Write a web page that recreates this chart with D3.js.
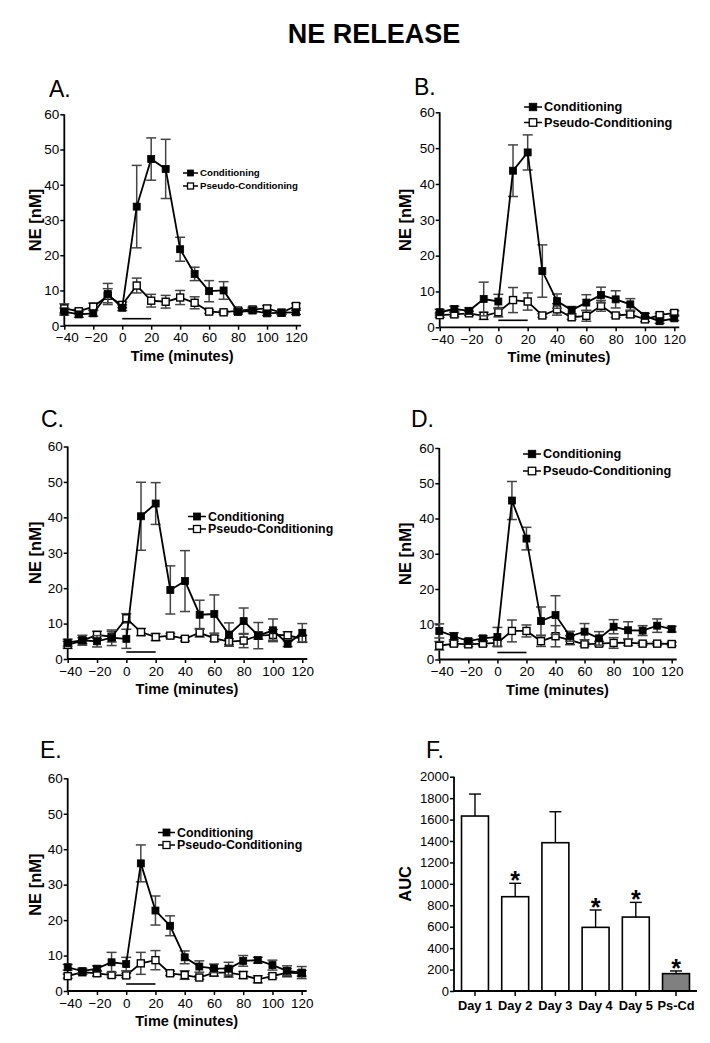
<!DOCTYPE html>
<html>
<head>
<meta charset="utf-8">
<script src="https://cdn.jsdelivr.net/npm/d3@7"></script>
<style>
    body { margin: 0; background: #fff; }
    svg { display: block; font-family: "Liberation Sans", Arial, sans-serif; }
</style>
</head>
<body>
<svg id="chart" width="710" height="1043"></svg>
<script>
// sample times (minutes) and ticks
const timePoints = [-40, -30, -20, -10, 0, 10, 20, 30, 40, 50, 60, 70, 80, 90, 100, 110, 120];
const timeTicks = [-40, -20, 0, 20, 40, 60, 80, 100, 120];
const neTicks = [0, 10, 20, 30, 40, 50, 60];
const stimulus = [0, 20];

// panel A (day 1)
const condA = [4.0, 3.2, 3.5, 9.0, 5.1, 33.8, 47.3, 44.5, 21.7, 14.7, 9.8, 10.0, 3.9, 4.3, 3.5, 3.7, 3.8];
const condAErr = [1.0, 0.8, 0.8, 3.0, 0.8, 11.7, 6.0, 8.4, 3.4, 1.9, 3.0, 2.5, 0.6, 0.6, 0.6, 0.5, 0.6];
const pseudoA = [4.9, 4.1, 5.4, 8.5, 5.9, 11.4, 7.1, 6.8, 8.0, 6.5, 4.0, 3.8, 4.3, 4.6, 4.9, 3.7, 5.6];
const pseudoAErr = [1.3, 0.6, 1.0, 2.0, 0.8, 2.1, 1.8, 1.8, 2.0, 1.7, 0.5, 0.5, 0.6, 0.6, 0.8, 0.5, 0.7];

// panel B
const condB = [4.2, 5.1, 4.6, 7.9, 7.2, 43.7, 48.8, 15.7, 7.3, 4.8, 6.9, 9.0, 7.8, 6.4, 3.2, 1.7, 2.5];
const condBErr = [0.8, 0.8, 0.8, 4.7, 2.0, 7.2, 4.9, 7.3, 2.0, 1.0, 2.2, 2.2, 2.4, 1.6, 0.7, 0.6, 0.6];
const pseudoB = [3.4, 3.6, 3.9, 3.2, 4.2, 7.6, 7.2, 3.3, 5.0, 2.8, 3.2, 6.0, 3.3, 3.6, 2.2, 3.4, 4.0];
const pseudoBErr = [0.6, 0.6, 0.6, 1.0, 1.3, 3.5, 2.4, 0.5, 1.6, 0.6, 1.5, 1.5, 0.5, 0.8, 0.6, 0.5, 0.6];

// panel C
const condC = [4.6, 5.3, 5.0, 6.0, 5.7, 40.3, 43.9, 19.5, 22.0, 12.5, 12.7, 6.9, 10.7, 6.6, 8.1, 4.3, 7.4];
const condCErr = [1.0, 1.4, 1.6, 2.2, 2.7, 9.6, 5.9, 6.8, 8.6, 4.1, 5.4, 3.3, 3.7, 3.7, 3.2, 0.8, 2.6];
const pseudoC = [4.0, 5.2, 6.8, 6.3, 11.5, 7.6, 6.2, 6.6, 5.7, 7.4, 5.8, 4.9, 5.2, 6.6, 6.8, 6.7, 5.7];
const pseudoCErr = [1.0, 0.8, 1.0, 1.5, 1.3, 1.0, 1.0, 0.6, 0.6, 1.2, 0.8, 0.8, 2.0, 1.0, 1.5, 1.0, 1.0];

// panel D
const condD = [8.1, 6.6, 5.2, 6.0, 6.4, 45.1, 34.3, 10.9, 12.6, 6.6, 7.9, 6.0, 9.3, 8.3, 8.2, 9.6, 8.6];
const condDErr = [2.0, 1.0, 0.7, 0.7, 2.7, 5.4, 3.2, 4.0, 5.5, 1.4, 2.3, 1.9, 2.0, 2.4, 1.4, 1.9, 0.8];
const pseudoD = [3.9, 4.5, 4.3, 4.5, 4.7, 8.1, 8.1, 5.2, 6.6, 5.5, 4.3, 4.5, 4.7, 4.8, 4.5, 4.5, 4.4];
const pseudoDErr = [1.2, 0.6, 0.6, 0.6, 1.0, 3.1, 1.7, 1.5, 3.0, 1.3, 0.5, 0.6, 1.5, 0.8, 0.5, 0.5, 0.5];

// panel E
const condE = [6.7, 5.6, 6.3, 8.1, 7.6, 36.0, 22.7, 18.4, 9.5, 6.9, 6.4, 6.3, 8.5, 8.7, 7.3, 5.7, 5.2];
const condEErr = [0.8, 0.8, 0.8, 2.8, 1.9, 5.2, 4.1, 2.8, 1.8, 1.6, 1.2, 1.8, 1.5, 0.8, 1.4, 1.4, 1.7];
const pseudoE = [4.2, 5.3, 5.0, 4.5, 4.4, 7.8, 8.7, 5.0, 4.5, 3.8, 5.2, 5.2, 4.5, 3.3, 4.2, 5.2, 5.0];
const pseudoEErr = [0.6, 0.6, 0.8, 0.6, 0.6, 3.1, 2.7, 0.6, 1.2, 0.5, 1.0, 1.3, 1.0, 1.0, 0.5, 1.2, 0.8];

// panel F (area under curve)
const aucGroups = ["Day 1", "Day 2", "Day 3", "Day 4", "Day 5", "Ps-Cd"];
const aucValues = [1633, 880, 1384, 594, 690, 162];
const aucErr = [205, 125, 289, 162, 137, 25];
const aucStar = [false, true, false, true, true, true];
const aucTicks = [0, 200, 400, 600, 800, 1000, 1200, 1400, 1600, 1800, 2000];

const svg = d3.select("#chart");

svg.append("text")
    .attr("x", 374)
    .attr("y", 43)
    .attr("text-anchor", "middle")
    .attr("font-size", 27)
    .attr("font-weight", "bold")
    .text("NE RELEASE");

function styleAxis(g, fontSize) {
    g.select(".domain").remove();
    g.selectAll(".tick line").attr("stroke", "#000").attr("stroke-width", 1.5);
    g.selectAll(".tick text")
        .attr("fill", "#000")
        .attr("font-size", fontSize)
        .attr("font-family", "Liberation Sans, Arial, sans-serif");
}

function drawSeries(g, x, y, values, errs, filled) {
    const pts = timePoints.map((t, i) => ({t: t, v: values[i], e: errs[i]}));

    const eb = g.append("g").attr("stroke", "#444").attr("stroke-width", 1.5);
    pts.forEach(d => {
        eb.append("line")
            .attr("x1", x(d.t)).attr("x2", x(d.t))
            .attr("y1", y(d.v - d.e)).attr("y2", y(d.v + d.e));
        [d.v - d.e, d.v + d.e].forEach(v => {
            eb.append("line")
                .attr("x1", x(d.t) - 5).attr("x2", x(d.t) + 5)
                .attr("y1", y(v)).attr("y2", y(v));
        });
    });

    g.append("path")
        .datum(pts)
        .attr("fill", "none")
        .attr("stroke", "#000")
        .attr("stroke-width", 1.8)
        .attr("d", d3.line().x(d => x(d.t)).y(d => y(d.v)));

    const s = 7;
    g.selectAll(null)
        .data(pts)
        .enter().append("rect")
        .attr("x", d => x(d.t) - s / 2)
        .attr("y", d => y(d.v) - s / 2)
        .attr("width", s)
        .attr("height", s)
        .attr("fill", filled ? "#000" : "#fff")
        .attr("stroke", "#000")
        .attr("stroke-width", filled ? 0.8 : 1.4);
}

function drawLegend(g, lg) {
    const names = ["Conditioning", "Pseudo-Conditioning"];
    names.forEach((name, i) => {
        const yy = lg.y + i * lg.dy;
        g.append("line")
            .attr("x1", lg.x).attr("x2", lg.x + lg.len)
            .attr("y1", yy).attr("y2", yy)
            .attr("stroke", "#000").attr("stroke-width", 1.5);
        g.append("rect")
            .attr("x", lg.x + lg.len / 2 - lg.sq / 2)
            .attr("y", yy - lg.sq / 2)
            .attr("width", lg.sq).attr("height", lg.sq)
            .attr("fill", i === 0 ? "#000" : "#fff")
            .attr("stroke", "#000").attr("stroke-width", i === 0 ? 0.8 : 1.3);
        g.append("text")
            .attr("x", lg.x + lg.len + 2)
            .attr("y", yy)
            .attr("dy", "0.35em")
            .attr("font-size", lg.font)
            .attr("font-weight", "bold")
            .text(name);
    });
}

function drawTimePanel(p) {
    const g = svg.append("g");
    const x = d3.scaleLinear().domain([-40, 120]).range([p.x0, p.x1]);
    const y = d3.scaleLinear().domain([0, 60]).range([p.y0, p.y1]);

    g.append("text")
        .attr("x", p.labelX).attr("y", p.labelY)
        .attr("font-size", 23)
        .text(p.letter);

    g.append("g")
        .attr("transform", `translate(0,${p.y0})`)
        .call(d3.axisBottom(x).tickValues(timeTicks).tickSize(4).tickPadding(3))
        .call(a => styleAxis(a, 13.5))
        // negative labels sit a little right of their tick, as in the original
        .call(a => a.selectAll(".tick text").attr("dx", d => d < 0 ? 2.5 : 0));
    g.append("g")
        .attr("transform", `translate(${p.x0},0)`)
        .call(d3.axisLeft(y).tickValues(neTicks).tickSize(4).tickPadding(1))
        .call(a => styleAxis(a, 13.5));

    g.append("line")
        .attr("x1", p.x0).attr("x2", p.x1 + 5)
        .attr("y1", p.y0).attr("y2", p.y0)
        .attr("stroke", "#000").attr("stroke-width", 1.8);
    g.append("line")
        .attr("x1", p.x0).attr("x2", p.x0)
        .attr("y1", p.y0).attr("y2", p.y1)
        .attr("stroke", "#000").attr("stroke-width", 1.8);

    g.append("text")
        .attr("x", (p.x0 + p.x1) / 2 + 2)
        .attr("y", p.y0 + 35)
        .attr("text-anchor", "middle")
        .attr("font-size", 14.5)
        .attr("font-weight", "bold")
        .text("Time (minutes)");

    g.append("text")
        .attr("transform", `translate(${p.yLabelX},${(p.y0 + p.y1) / 2}) rotate(-90)`)
        .attr("text-anchor", "middle")
        .attr("dy", "0.35em")
        .attr("font-size", 16.5)
        .attr("font-weight", "bold")
        .text("NE [nM]");

    // stimulus period
    g.append("line")
        .attr("x1", x(stimulus[0])).attr("x2", x(stimulus[1]))
        .attr("y1", p.y0 - 7).attr("y2", p.y0 - 7)
        .attr("stroke", "#000").attr("stroke-width", 1.6);

    drawSeries(g, x, y, p.pseudo, p.pseudoErr, false);
    drawSeries(g, x, y, p.cond, p.condErr, true);

    drawLegend(g, p.legend);
}

drawTimePanel({
    letter: "A.", labelX: 49, labelY: 97,
    x0: 64.3, x1: 296, y0: 325.7, y1: 114.3, yLabelX: 35,
    cond: condA, condErr: condAErr, pseudo: pseudoA, pseudoErr: pseudoAErr,
    legend: {x: 183, y: 173, dy: 13, len: 15, sq: 6, font: 9.7}
});
drawTimePanel({
    letter: "B.", labelX: 414, labelY: 95,
    x0: 439.7, x1: 674.3, y0: 327.3, y1: 112.3, yLabelX: 405,
    cond: condB, condErr: condBErr, pseudo: pseudoB, pseudoErr: pseudoBErr,
    legend: {x: 524, y: 107, dy: 15.5, len: 18, sq: 7.5, font: 12.7}
});
drawTimePanel({
    letter: "C.", labelX: 41, labelY: 427,
    x0: 67.7, x1: 302.3, y0: 659, y1: 446.5, yLabelX: 35,
    cond: condC, condErr: condCErr, pseudo: pseudoC, pseudoErr: pseudoCErr,
    legend: {x: 188, y: 516.5, dy: 12.5, len: 18, sq: 7, font: 12.4}
});
drawTimePanel({
    letter: "D.", labelX: 411, labelY: 427,
    x0: 439.3, x1: 671.7, y0: 659.5, y1: 448, yLabelX: 405,
    cond: condD, condErr: condDErr, pseudo: pseudoD, pseudoErr: pseudoDErr,
    legend: {x: 523, y: 454, dy: 17, len: 18, sq: 7.5, font: 12.7}
});
drawTimePanel({
    letter: "E.", labelX: 40, labelY: 758,
    x0: 67.7, x1: 301.7, y0: 991, y1: 778.3, yLabelX: 35,
    cond: condE, condErr: condEErr, pseudo: pseudoE, pseudoErr: pseudoEErr,
    legend: {x: 158, y: 832.5, dy: 12.5, len: 17, sq: 7, font: 12.4}
});

// panel F: bar chart of AUC
function drawAucPanel() {
    const g = svg.append("g");
    const x0 = 454, y0 = 991, y1 = 776.7;
    const x = d3.scaleBand().domain(aucGroups).range([x0, 697]).paddingInner(0.33).paddingOuter(0.187);
    const y = d3.scaleLinear().domain([0, 2000]).range([y0, y1]);

    g.append("text")
        .attr("x", 426).attr("y", 758)
        .attr("font-size", 23)
        .text("F.");

    const rows = aucGroups.map((k, i) => ({k: k, v: aucValues[i], e: aucErr[i], star: aucStar[i]}));

    const eb = g.append("g").attr("stroke", "#000").attr("stroke-width", 1.4);
    rows.forEach(d => {
        const cx = x(d.k) + x.bandwidth() / 2;
        eb.append("line").attr("x1", cx).attr("x2", cx).attr("y1", y(d.v)).attr("y2", y(d.v + d.e));
        eb.append("line").attr("x1", cx - 6).attr("x2", cx + 6).attr("y1", y(d.v + d.e)).attr("y2", y(d.v + d.e));
    });

    g.selectAll(null)
        .data(rows)
        .enter().append("rect")
        .attr("x", d => x(d.k))
        .attr("y", d => y(d.v))
        .attr("width", x.bandwidth())
        .attr("height", d => y0 - y(d.v))
        .attr("fill", d => d.k === "Ps-Cd" ? "#808080" : "#fff")
        .attr("stroke", "#000")
        .attr("stroke-width", 1.6);

    g.selectAll(null)
        .data(rows.filter(d => d.star))
        .enter().append("text")
        .attr("x", d => x(d.k) + x.bandwidth() / 2)
        .attr("y", d => y(d.v + d.e) + 6)
        .attr("text-anchor", "middle")
        .attr("font-size", 25)
        .attr("font-weight", "bold")
        .text("*");

    g.append("g")
        .attr("transform", `translate(0,${y0})`)
        .call(d3.axisBottom(x).tickSize(5).tickPadding(5))
        .call(a => styleAxis(a, 12.8))
        .call(a => a.selectAll(".tick text").attr("font-weight", "bold"));
    g.append("g")
        .attr("transform", `translate(${x0},0)`)
        .call(d3.axisLeft(y).tickValues(aucTicks).tickSize(4).tickPadding(1).tickFormat(d3.format("d")))
        .call(a => styleAxis(a, 13));

    g.append("line")
        .attr("x1", x0).attr("x2", 697)
        .attr("y1", y0).attr("y2", y0)
        .attr("stroke", "#000").attr("stroke-width", 1.8);
    g.append("line")
        .attr("x1", x0).attr("x2", x0)
        .attr("y1", y0).attr("y2", y1)
        .attr("stroke", "#000").attr("stroke-width", 1.8);

    g.append("text")
        .attr("transform", `translate(405,${(y0 + y1) / 2}) rotate(-90)`)
        .attr("text-anchor", "middle")
        .attr("dy", "0.35em")
        .attr("font-size", 16.5)
        .attr("font-weight", "bold")
        .text("AUC");
}

drawAucPanel();
</script>
</body>
</html>
